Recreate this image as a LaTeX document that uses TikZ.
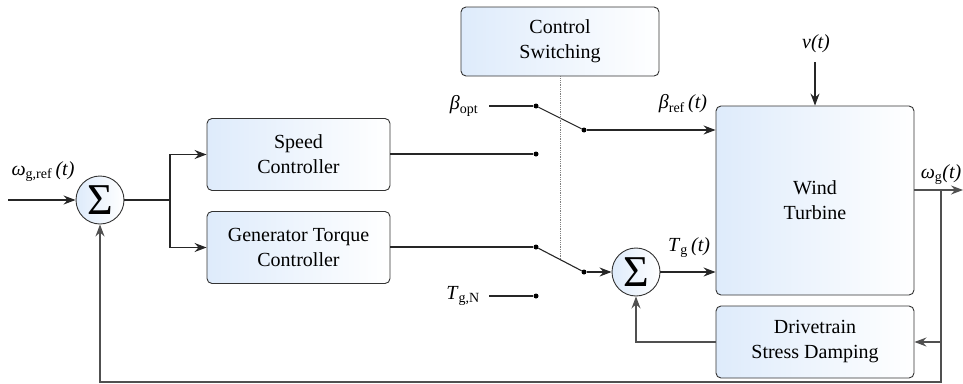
\documentclass[tikz,border=0pt]{standalone}
\usepackage{fontspec}
\setmainfont{Liberation Serif}
\usetikzlibrary{arrows.meta, positioning, calc}
\definecolor{boxblue}{RGB}{222,235,251}
\definecolor{linegray}{RGB}{80,80,80}

\begin{document}
\begin{tikzpicture}[x=1pt, y=-1pt, font=\rmfamily\fontsize{20}{25}\selectfont,
  block/.style={draw=black!80, line width=0.9pt, rounded corners=5pt, left color=boxblue, right color=white, align=center, inner sep=0pt},
  sumnode/.style={circle, draw=black!80, line width=0.9pt, left color=boxblue, right color=white, minimum size=48pt, inner sep=0pt, font=\rmfamily\fontsize{44}{44}\selectfont},
  sig/.style={draw=black!85, line width=1.1pt},
  fb/.style={draw=linegray, line width=1.2pt},
  arr/.style={-{Stealth[length=12pt, width=9pt, inset=4pt]}},
  contact/.style={circle, fill=black, inner sep=0pt, minimum size=5pt}]
\useasboundingbox (0,0) rectangle (963,383);

% blocks
\node[block, minimum width=198pt, minimum height=69pt] (ctrlsw) at (560,41.5) {Control\\Switching};
\node[block, minimum width=183pt, minimum height=72pt] (speed) at (298.5,154.5) {Speed\\Controller};
\node[block, minimum width=183pt, minimum height=72pt] (gentq) at (298.5,247.5) {Generator Torque\\Controller};
\node[block, minimum width=198pt, minimum height=189pt] (wt) at (815,200.5) {Wind\\Turbine};
\node[block, minimum width=198pt, minimum height=72pt] (dsd) at (815,342) {Drivetrain\\Stress Damping};

% summing junctions
\node[sumnode] (sum1) at (100,200) {Σ};
\node[sumnode] (sum2) at (636,272) {Σ};

% switch contacts
\node[contact] (c1) at (536,106) {};
\node[contact] (c2) at (536,154) {};
\node[contact] (c3) at (536,247) {};
\node[contact] (c4) at (536,296) {};
\node[contact] (p1) at (584,130) {};
\node[contact] (p2) at (584,272) {};

% labels
\node (wref) at (43,172) {\textit{ω}\textsubscript{g,ref}\,\textit{(t)}};
\node (bopt) at (464,106) {\textit{β}\textsubscript{opt}};
\node (tgn) at (463,296) {\textit{T}\textsubscript{g,N}};
\node (bref) at (683,104) {\textit{β}\textsubscript{ref}\,\textit{(t)}};
\node (tg) at (689,248) {\textit{T}\textsubscript{g}\,\textit{(t)}};
\node (vt) at (816,44) {\textit{v(t)}};
\node (wg) at (941,175) {\textit{ω}\textsubscript{g}\textit{(t)}};

\coordinate (in) at (8,200);
\coordinate (br) at (170,200);
\coordinate (bstart) at (489,106);
\coordinate (tstart) at (489,296);
\coordinate (vtop) at (815,62);
\coordinate (tap) at (941,190);
\coordinate (out) at (963,190);
\coordinate (bot) at (941,382);

% forward path
\draw[sig, arr] (in) -- (sum1.west);
\draw[sig] (sum1.east) -- (br);
\draw[sig, arr] (br) |- (speed.west);
\draw[sig, arr] (br) |- (gentq.west);
\draw[sig] (speed.east |- c2) -- (c2);
\draw[sig] (gentq.east |- c3) -- (c3);
\draw[sig] (bstart) -- (c1);
\draw[sig] (tstart) -- (c4);

% switches
\draw[sig] (c1) -- (p1);
\draw[sig] (c3) -- (p2);
\draw[densely dotted, draw=black!50, line width=0.8pt] (ctrlsw.south) -- ($(c3)!0.5!(p2)$);
\draw[sig, arr] (p1) -- (p1 -| wt.west);
\draw[sig, arr] (p2) -- (sum2.west);
\draw[sig, arr] (sum2.east) -- (sum2 -| wt.west);
\draw[sig, arr] (vtop) -- (wt.north);

% output and feedback
\draw[fb, arr] (wt.east |- tap) -- (out);
\draw[fb, arr] (tap) |- (dsd.east);
\draw[fb, arr] (tap) -- (bot) -| (sum1.south);
\draw[fb, arr] (dsd.west) -| (sum2.south);
\end{tikzpicture}
\end{document}
